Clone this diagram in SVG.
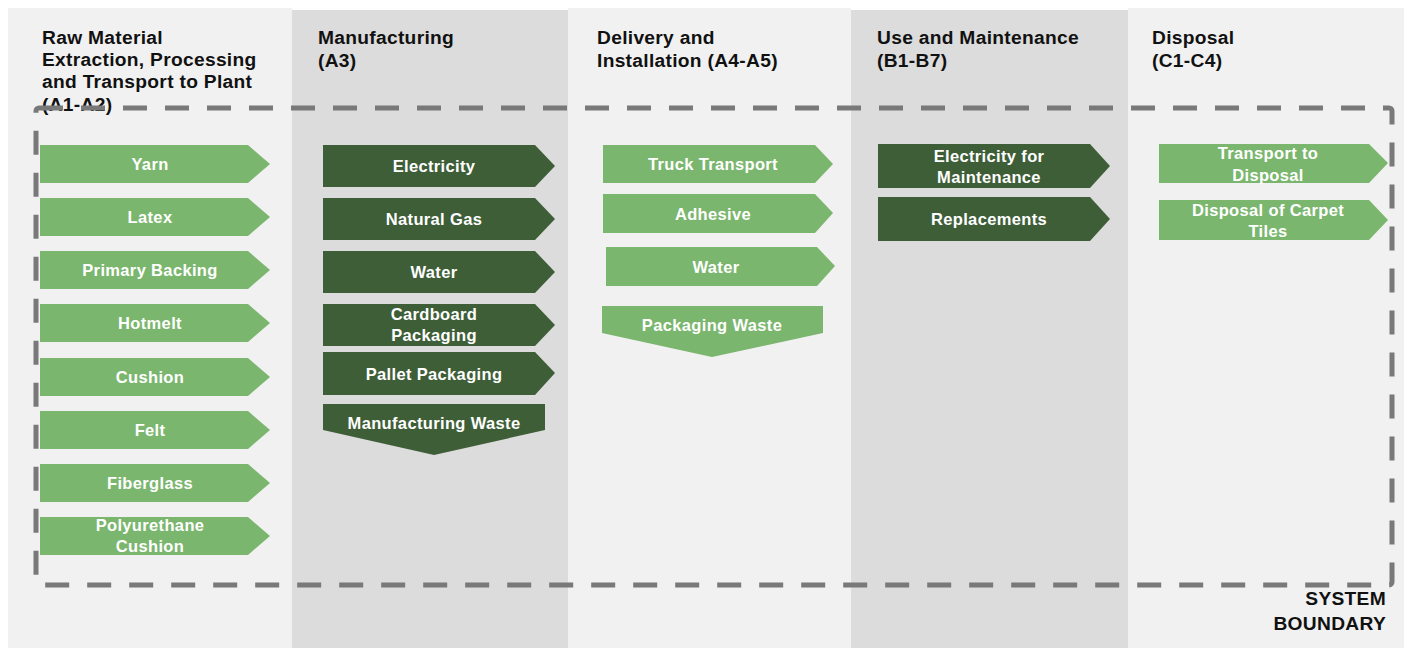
<svg xmlns="http://www.w3.org/2000/svg" width="1411" height="648" viewBox="0 0 1411 648">
<style>
.pl{fill:#f1f1f1}
.pd{fill:#dcdcdc}
.hd{font-family:"Liberation Sans",Arial,sans-serif;font-weight:bold;font-size:19.2px;letter-spacing:0.3px;fill:#111}
.lg{fill:#7ab66d}
.dg{fill:#3e5e38}
.lb{font-family:"Liberation Sans",Arial,sans-serif;font-weight:bold;font-size:16.5px;letter-spacing:0.35px;fill:#fff;text-anchor:middle}
.bd{fill:none;stroke:#797979;stroke-width:5;stroke-dasharray:24 18}
</style>
<rect width="1411" height="648" fill="#fff"/>
<g id="panels">
<rect class="pl" x="8" y="8" width="284" height="640"/>
<rect class="pd" x="292" y="10" width="276" height="638"/>
<rect class="pl" x="568" y="8" width="283" height="640"/>
<rect class="pd" x="851" y="10" width="277" height="638"/>
<rect class="pl" x="1128" y="8" width="276" height="640"/>
</g>
<g id="headers">
<text class="hd" x="42" y="44">Raw Material<tspan x="42" dy="22">Extraction, Processing</tspan><tspan x="42" dy="22">and Transport to Plant</tspan><tspan x="42" dy="23">(A1-A2)</tspan></text>
<text class="hd" x="318" y="44">Manufacturing<tspan x="318" dy="23">(A3)</tspan></text>
<text class="hd" x="597" y="44">Delivery and<tspan x="597" dy="23">Installation (A4-A5)</tspan></text>
<text class="hd" x="877" y="44">Use and Maintenance<tspan x="877" dy="23">(B1-B7)</tspan></text>
<text class="hd" x="1152" y="44">Disposal<tspan x="1152" dy="23">(C1-C4)</tspan></text>
</g>
<g id="connectors">
<rect id="system-boundary" class="bd" x="36" y="108" width="1356" height="477" rx="3"/>
</g>
<g id="col1">
<g id="yarn"><polygon class="lg" points="40,145 248,145 270,164 248,183 40,183"/><text class="lb" x="150" y="170">Yarn</text></g>
<g id="latex"><polygon class="lg" points="40,198 248,198 270,217 248,236 40,236"/><text class="lb" x="150" y="223">Latex</text></g>
<g id="primary-backing"><polygon class="lg" points="40,251 248,251 270,270 248,289 40,289"/><text class="lb" x="150" y="276">Primary Backing</text></g>
<g id="hotmelt"><polygon class="lg" points="40,304 248,304 270,323 248,342 40,342"/><text class="lb" x="150" y="329">Hotmelt</text></g>
<g id="cushion"><polygon class="lg" points="40,358 248,358 270,377 248,396 40,396"/><text class="lb" x="150" y="383">Cushion</text></g>
<g id="felt"><polygon class="lg" points="40,411 248,411 270,430 248,449 40,449"/><text class="lb" x="150" y="436">Felt</text></g>
<g id="fiberglass"><polygon class="lg" points="40,464 248,464 270,483 248,502 40,502"/><text class="lb" x="150" y="489">Fiberglass</text></g>
<g id="polyurethane-cushion"><polygon class="lg" points="40,517 248,517 270,536 248,555 40,555"/><text class="lb" x="150" y="531">Polyurethane<tspan x="150" dy="21">Cushion</tspan></text></g>
</g>
<g id="col2">
<g id="electricity"><polygon class="dg" points="323,145 535,145 555,166 535,187 323,187"/><text class="lb" x="434" y="172">Electricity</text></g>
<g id="natural-gas"><polygon class="dg" points="323,198 535,198 555,219 535,240 323,240"/><text class="lb" x="434" y="225">Natural Gas</text></g>
<g id="water-a3"><polygon class="dg" points="323,251 535,251 555,272 535,293 323,293"/><text class="lb" x="434" y="278">Water</text></g>
<g id="cardboard-packaging"><polygon class="dg" points="323,304 535,304 555,325 535,346 323,346"/><text class="lb" x="434" y="320">Cardboard<tspan x="434" dy="21">Packaging</tspan></text></g>
<g id="pallet-packaging"><polygon class="dg" points="323,352 535,352 555,373 535,395 323,395"/><text class="lb" x="434" y="380">Pallet Packaging</text></g>
<g id="manufacturing-waste"><polygon class="dg" points="323,404 545,404 545,430 434,455 323,430"/><text class="lb" x="434" y="429">Manufacturing Waste</text></g>
</g>
<g id="col3">
<g id="truck-transport"><polygon class="lg" points="603,145 815,145 833,164 815,183 603,183"/><text class="lb" x="713" y="170">Truck Transport</text></g>
<g id="adhesive"><polygon class="lg" points="603,194 815,194 833,213 815,233 603,233"/><text class="lb" x="713" y="220">Adhesive</text></g>
<g id="water-a4"><polygon class="lg" points="606,247 817,247 835,266 817,286 606,286"/><text class="lb" x="716" y="273">Water</text></g>
<g id="packaging-waste"><polygon class="lg" points="602,306 823,306 823,333 712,357 602,333"/><text class="lb" x="712" y="331">Packaging Waste</text></g>
</g>
<g id="col4">
<g id="electricity-maintenance"><polygon class="dg" points="878,144 1090,144 1110,166 1090,188 878,188"/><text class="lb" x="989" y="162">Electricity for<tspan x="989" dy="21">Maintenance</tspan></text></g>
<g id="replacements"><polygon class="dg" points="878,197 1090,197 1110,219 1090,241 878,241"/><text class="lb" x="989" y="225">Replacements</text></g>
</g>
<g id="col5">
<g id="transport-disposal"><polygon class="lg" points="1159,144 1369,144 1388,163 1369,183 1159,183"/><text class="lb" x="1268" y="159">Transport to<tspan x="1268" dy="22">Disposal</tspan></text></g>
<g id="disposal-tiles"><polygon class="lg" points="1159,200 1369,200 1388,220 1369,240 1159,240"/><text class="lb" x="1268" y="216">Disposal of Carpet<tspan x="1268" dy="21">Tiles</tspan></text></g>
</g>
<g id="boundary-label">
<text class="hd" x="1386" y="605" text-anchor="end">SYSTEM<tspan x="1386" dy="25">BOUNDARY</tspan></text>
</g>
</svg>
